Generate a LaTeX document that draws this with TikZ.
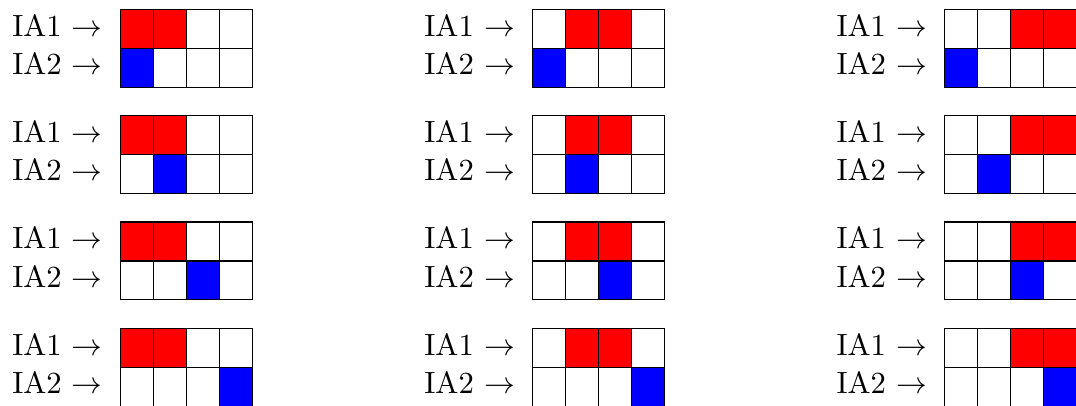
\documentclass[tikz,border=0pt]{standalone}
\begin{document}
% one unit = one pixel of the final image; text stays at its natural 10pt
\begin{tikzpicture}[x=0.3257pt,y=-0.3257pt,
  cellbox/.style={draw=black,line width=0.4pt},
  lbl/.style={anchor=base east,inner sep=0pt}]
\useasboundingbox (0,0) rectangle (1076,405);
\def\cw{33.0}
\def\ch{38.9}
\foreach \c in {0,1,2}{
  \foreach \r in {0,1,2,3}{
    \pgfmathsetmacro\X{120.3+\c*412.1}
    \pgfmathsetmacro\Y{9.4+\r*106.3}
    % row labels
    \node[lbl] (ia1-\c-\r) at (\X-17,\Y+26.7) {IA1 $\rightarrow$};
    \node[lbl] (ia2-\c-\r) at (\X-17,\Y+65.0) {IA2 $\rightarrow$};
    % cells: two red in the top row, one blue in the bottom row
    \foreach \i in {0,1,2,3}{
      \pgfmathsetmacro\xa{\X+\i*\cw}
      \def\topcol{white}
      \ifnum\i=\c\relax\def\topcol{red}\fi
      \ifnum\i=\numexpr\c+1\relax\def\topcol{red}\fi
      \def\botcol{white}
      \ifnum\i=\r\relax\def\botcol{blue}\fi
      \fill[\topcol] (\xa,\Y) rectangle ++(\cw,\ch);
      \fill[\botcol] (\xa,\Y+\ch) rectangle ++(\cw,\ch);
      \draw[cellbox] (\xa,\Y) rectangle ++(\cw,\ch);
      \draw[cellbox] (\xa,\Y+\ch) rectangle ++(\cw,\ch);
    }
  }
}
\end{tikzpicture}
\end{document}
